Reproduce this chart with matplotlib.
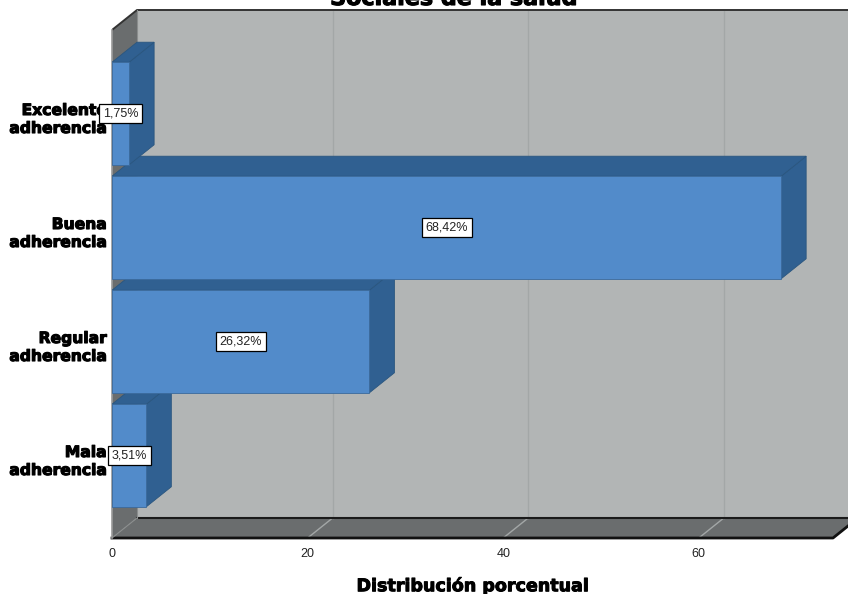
import matplotlib
matplotlib.use("Agg")
import matplotlib.pyplot as plt
import matplotlib.patheffects as pe
from matplotlib.patches import Polygon
from matplotlib.transforms import ScaledTranslation

categorias = ["Mala\nadherencia", "Regular\nadherencia", "Buena\nadherencia", "Excelente\nadherencia"]
valores = [3.51, 26.32, 68.42, 1.75]
etiquetas = ["3,51%", "26,32%", "68,42%", "1,75%"]
ticks_x = [0, 20, 40, 60]

W, H = 848, 594
fig = plt.figure(figsize=(W / 100, H / 100), dpi=100)
# el eje ocupa desde la esquina frontal del piso hasta el borde de la figura
ax = fig.add_axes([112 / W, (H - 538) / H, (W - 112) / W, 538 / H])

px_x = 9.78   # pixeles por unidad en x
px_y = 114.0  # pixeles entre categorias
ax.set_xlim(0, (W - 112) / px_x)
ax.set_ylim(-82.5 / px_y, 455.5 / px_y)

dx = 25 / px_x   # profundidad 3D
dy = 20 / px_y
piso = -82.5 / px_y
techo = 425.5 / px_y
fin_x = (833 - 112) / px_x
alto = 0.9

c_frente = "#528BCA"
c_lado = "#306091"
c_pared = "#B2B5B5"
c_piso = "#6A6D6E"
c_grid = "#A3A7A7"


def poly(puntos, color, borde="none", lw=0.0, z=1):
    ax.add_patch(Polygon(puntos, closed=True, facecolor=color, edgecolor=borde, linewidth=lw, zorder=z))


# paredes
poly([(dx, piso + dy), (fin_x + dx, piso + dy), (fin_x + dx, techo + dy), (dx, techo + dy)], c_pared, z=1)
poly([(0, piso), (fin_x, piso), (fin_x + dx, piso + dy), (dx, piso + dy)], c_piso, z=1)
poly([(0, piso), (dx, piso + dy), (dx, techo + dy), (0, techo)], c_piso, z=1)

for t in ticks_x[1:]:
    ax.plot([t + dx, t + dx], [piso + dy, techo + dy], color=c_grid, lw=1.0, zorder=2)
    ax.plot([t, t + dx], [piso, piso + dy], color=c_grid, lw=1.0, zorder=2)

ax.plot([dx, fin_x + dx], [piso + dy, piso + dy], color="#1a1a1a", lw=1.5, zorder=3)
ax.plot([0, fin_x, fin_x + dx], [piso, piso, piso + dy], color="#111111", lw=2.0, zorder=3, clip_on=False)
ax.plot([0, dx, fin_x + dx], [techo, techo + dy, techo + dy], color="#333333", lw=1.4, zorder=3)
ax.plot([0, dx], [piso, piso + dy], color="#8a8d8d", lw=0.8, zorder=3)
ax.plot([dx, dx], [piso + dy, techo + dy], color="#8a8d8d", lw=0.8, zorder=3)
ax.plot([0, 0], [piso, techo], color="#9a9a9a", lw=1.2, zorder=3, clip_on=False)

# barras, de abajo hacia arriba
z = 4
for i, v in enumerate(valores):
    y0, y1 = i - alto / 2, i + alto / 2
    poly([(v, y0), (v + dx, y0 + dy), (v + dx, y1 + dy), (v, y1)], c_lado, "#2A567F", 0.6, z)
    poly([(0, y1), (v, y1), (v + dx, y1 + dy), (dx, y1 + dy)], c_lado, "#2A567F", 0.6, z)
    ax.barh(i, v, height=alto, color=c_frente, edgecolor="#3B6A9C", linewidth=0.6, zorder=z + 0.1)
    z += 1

for i, v in enumerate(valores):
    ax.text(v / 2, i, etiquetas[i], ha="center", va="center", fontsize=9, family="Liberation Sans",
            color="#222222", zorder=20,
            bbox=dict(boxstyle="square,pad=0.3", facecolor="white", edgecolor="black", linewidth=0.9))

ax.set_xticks(ticks_x)
ax.set_xticklabels([str(t) for t in ticks_x], fontsize=9, family="Liberation Sans", color="#222222")
ax.tick_params(axis="x", length=0, pad=7)
ax.set_yticks(range(len(categorias)))
ax.set_yticklabels(categorias, fontsize=11.2, fontweight="bold", family="DejaVu Sans", color="black",
                   linespacing=1.25, path_effects=[pe.withStroke(linewidth=0.8, foreground="black")])
ax.tick_params(axis="y", length=0, pad=4)
# las etiquetas de categoria quedan un poco mas abajo que el centro de la barra
desplaza = ScaledTranslation(0, -3 / 100, fig.dpi_scale_trans)
for lab in ax.get_yticklabels():
    lab.set_transform(lab.get_transform() + desplaza)
for s in ax.spines.values():
    s.set_visible(False)

fig.text(454 / W, 1 - 5 / H, "Sociales de la salud", ha="center", va="baseline", fontsize=16, fontweight="bold",
         family="DejaVu Sans", color="black", path_effects=[pe.withStroke(linewidth=0.8, foreground="black")])
fig.text(473 / W, 1 - 586 / H, "Distribución porcentual", ha="center", va="center", fontsize=12.6, fontweight="bold",
         family="DejaVu Sans", color="black", path_effects=[pe.withStroke(linewidth=0.7, foreground="black")])

fig.savefig("out.png", dpi=100)
